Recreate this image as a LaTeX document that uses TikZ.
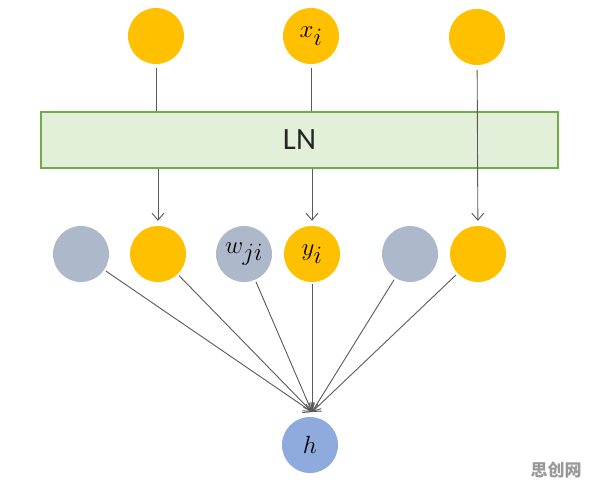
\documentclass[tikz,border=0pt]{standalone}
\usepackage{fontspec}
\newfontfamily\lnfont{Carlito}
\newfontfamily\cjk{Noto Sans CJK SC}
\usetikzlibrary{arrows.meta}
\definecolor{yel}{HTML}{FFC000}
\definecolor{gry}{HTML}{ADB9CA}
\definecolor{hblue}{HTML}{8FAADC}
\definecolor{lnfill}{HTML}{E2F0D9}
\definecolor{lnedge}{HTML}{70AD47}
\definecolor{ln}{HTML}{5A5A5A}
\begin{document}
\begin{tikzpicture}[x=1pt,y=-1pt,
  unit/.style={circle,minimum size=56pt,inner sep=0pt,font=\fontsize{34}{36}\selectfont},
  ynode/.style={unit,fill=yel},
  gnode/.style={unit,fill=gry},
  hnode/.style={unit,fill=hblue},
  conn/.style={draw=ln,line width=0.9pt},
  arr/.style={conn,-{Straight Barb[length=7pt,width=12pt]}}]
\useasboundingbox[fill=white] (0,0) rectangle (596,491);
% top inputs
\node[ynode] (t1) at (156,36) {};
\node[ynode] (t2) at (311,36) {$x_i$};
\node[ynode] (t3) at (477,37) {};
% LN box
\node[draw=lnedge,line width=1.3pt,fill=lnfill,minimum width=517pt,minimum height=56pt,inner sep=0pt,
  font=\lnfont\fontsize{31}{34}\selectfont,text=black!85] (lnb) at (299.5,140) {LN};
% middle row
\node[gnode] (m1) at (81,254) {};
\node[ynode] (m2) at (158,254) {};
\node[gnode] (m3) at (244,254) {$w_{ji}$};
\node[ynode] (m4) at (312,254) {$y_i$};
\node[gnode] (m5) at (410,254) {};
\node[ynode] (m6) at (478,254) {};
% output
\node[hnode] (h) at (310,445) {$h$};
\coordinate (hh) at (312,412);
% connectors top -> LN -> middle
\draw[conn,shorten <=4pt] (t1) -- (t1 |- lnb.north);
\draw[conn,shorten <=4pt] (t2) -- (t2 |- lnb.north);
\draw[arr,shorten >=5pt] (m2 |- lnb.south) -- (m2);
\draw[arr,shorten >=5pt] (m4 |- lnb.south) -- (m4);
\draw[arr,shorten <=5pt,shorten >=5pt] (t3) -- (m6);
% middle -> h
\foreach \n in {m1,m2,m3,m4,m5,m6}
  \draw[arr,shorten <=2pt] (\n) -- (hh);
% watermark
\node[font=\cjk\bfseries\fontsize{17}{19}\selectfont,text=black!40] (wm) at (556,470) {思创网};
\end{tikzpicture}
\end{document}
